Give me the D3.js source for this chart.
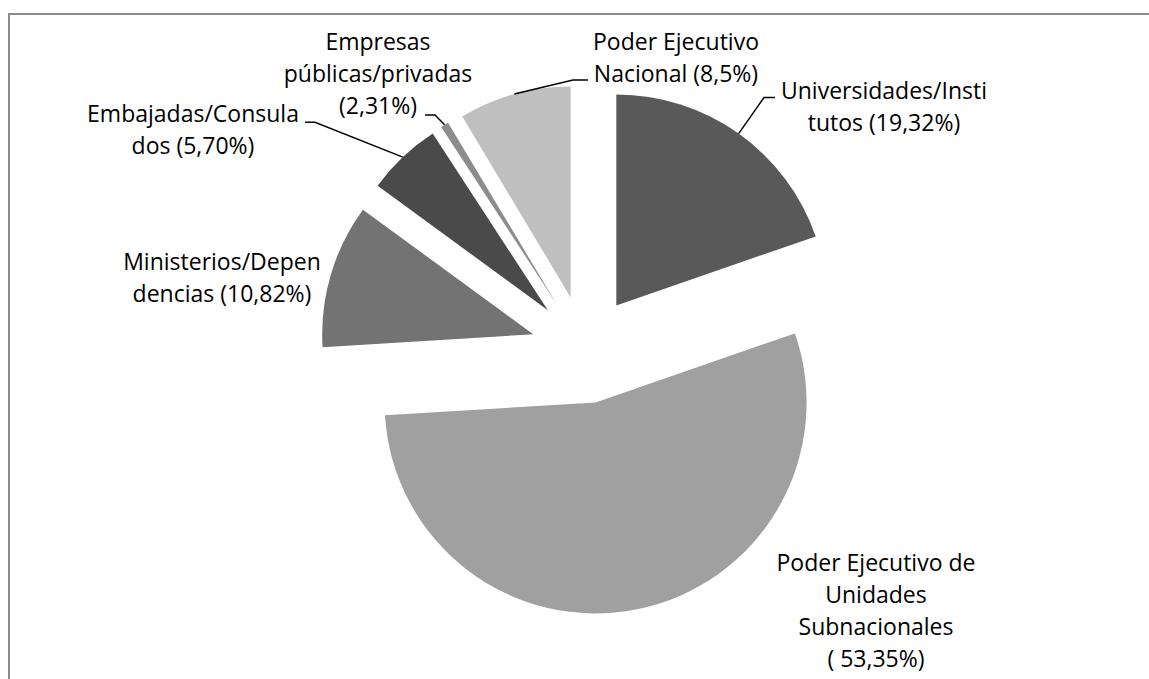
<!DOCTYPE html>
<html>
<head>
<meta charset="utf-8">
<script src="https://cdn.jsdelivr.net/npm/d3@7"></script>
<style>
  body { margin: 0; background: #fff; }
  text { font-family: "Open Sans", "Noto Sans", sans-serif; font-size: 23px; fill: #000; }
</style>
</head>
<body>
<div id="chartArea"></div>
<script>
// data setup
var categories = [
  "Universidades/Institutos",
  "Poder Ejecutivo de Unidades Subnacionales",
  "Ministerios/Dependencias",
  "Embajadas/Consulados",
  "Empresas públicas/privadas",
  "Poder Ejecutivo Nacional"
];
// slice sizes (%)
var values = [19.69, 54.33, 11.03, 5.75, 0.61, 8.58];
// label text as printed on the chart
var labelLines = [
  ["Universidades/Insti", "tutos (19,32%)"],
  ["Poder Ejecutivo de", "Unidades", "Subnacionales", "( 53,35%)"],
  ["Ministerios/Depen", "dencias (10,82%)"],
  ["Embajadas/Consula", "dos (5,70%)"],
  ["Empresas", "públicas/privadas", "(2,31%)"],
  ["Poder Ejecutivo", "Nacional (8,5%)"]
];

// layout
var width = 1149, height = 679;
var cx = 585, cy = 349.5, radius = 211, explode = 54;
var colors = ["#595959", "#a0a0a0", "#737373", "#4a4a4a", "#8c8c8c", "#bfbfbf"];

// label anchors (center x, first baseline) and leader elbow points
var labelPos = [[884, 99], [876, 571], [222, 270], [193, 122], [378, 50], [676, 50]];
var leaders = [
  [[764, 97.5], [775, 97.5]],
  null,
  null,
  [[315, 122.3], [305, 122.3]],
  [[435, 115], [425, 115]],
  [[573, 80], [588, 80]]
];
var lineHeight = 32;

var svg = d3.select("#chartArea").append("svg")
  .attr("width", width)
  .attr("height", height);

// chart frame (clipped at right and bottom as in the source)
svg.append("path")
  .attr("d", "M9," + height + "V14H" + width)
  .attr("fill", "none")
  .attr("stroke", "#8a8a8a")
  .attr("stroke-width", 2);

var pie = d3.pie().sort(null).value(function(d) { return d; });
var arcs = pie(values);

var arc = d3.arc().innerRadius(0).outerRadius(radius);

var g = svg.append("g")
  .attr("transform", "translate(" + cx + "," + cy + ")");

function offset(d) {
  var a = (d.startAngle + d.endAngle) / 2;
  return [Math.sin(a) * explode, -Math.cos(a) * explode];
}

g.selectAll("path.slice")
  .data(arcs)
  .enter()
  .append("path")
  .attr("class", "slice")
  .attr("transform", function(d) {
    var o = offset(d);
    return "translate(" + o[0] + "," + o[1] + ")";
  })
  .attr("d", arc)
  .attr("fill", function(d, i) { return colors[i]; });

// leader lines from the middle of each slice's outer arc
arcs.forEach(function(d, i) {
  if (!leaders[i]) return;
  var a = (d.startAngle + d.endAngle) / 2;
  var r = explode + radius;
  var start = [cx + Math.sin(a) * r, cy - Math.cos(a) * r];
  svg.append("path")
    .attr("d", d3.line()([start].concat(leaders[i])))
    .attr("fill", "none")
    .attr("stroke", "#000")
    .attr("stroke-width", 1.5);
});

// labels
labelLines.forEach(function(lines, i) {
  var t = svg.append("text")
    .attr("text-anchor", "middle")
    .attr("x", labelPos[i][0])
    .attr("y", labelPos[i][1]);
  lines.forEach(function(s, j) {
    t.append("tspan")
      .attr("x", labelPos[i][0])
      .attr("y", labelPos[i][1] + j * lineHeight)
      .text(s);
  });
});
</script>
</body>
</html>
